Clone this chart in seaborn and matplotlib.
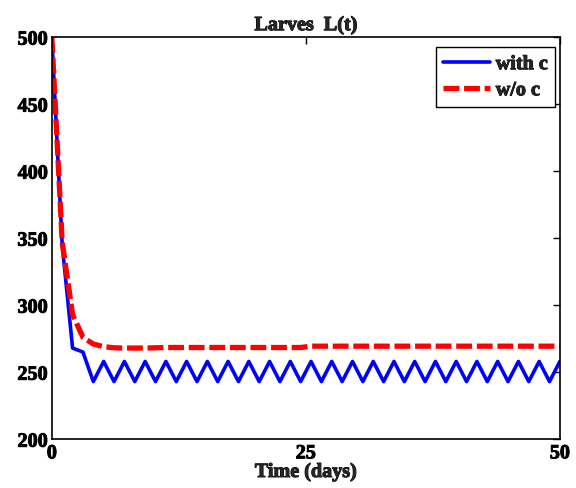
import numpy as np
import matplotlib
matplotlib.use("Agg")
import matplotlib.pyplot as plt
import matplotlib.patheffects as pe
import seaborn as sns
import pandas as pd

# Data
n_points = 50
time_days = np.linspace(0, 50, n_points)
with_c = [500, 345, 268, 265,
          243, 258, 243, 258, 243, 258, 243, 258, 243, 258,
          243, 258, 243, 258, 243, 258, 243, 258, 243, 258,
          243, 258, 243, 258, 243, 258, 243, 258, 243, 258,
          243, 258, 243, 258, 243, 258, 243, 258, 243, 258,
          243, 258, 243, 258, 243, 258]
wo_c = [500, 347, 293, 276, 271, 269, 268.2, 268, 268, 268,
        268.2, 268.4, 268.4, 268.4, 268.4, 268.4, 268.4, 268.4, 268.4, 268.4,
        268.4, 268.4, 268.4, 268.4, 268.4, 269.4, 269.4, 269.4, 269.4, 269.4,
        269.4, 269.4, 269.4, 269.4, 269.4, 269.4, 269.4, 269.4, 269.4, 269.4,
        269.4, 269.4, 269.4, 269.4, 269.4, 269.4, 269.4, 269.4, 269.4, 269.4]
x_ticks = [0, 25, 50]
y_ticks = [200, 250, 300, 350, 400, 450, 500]
title = "Larves  L(t)"
xlabel = "Time (days)"
labels = ["with c", "w/o c"]

sns.set_style("white")
plt.rcParams['font.family'] = ['Liberation Serif', 'DejaVu Serif']
plt.rcParams['font.weight'] = 'bold'

fig = plt.figure(figsize=(5.76, 4.88), dpi=100)
ax = fig.add_axes([0.090, 0.100, 0.882, 0.824])

df = pd.DataFrame({"t": time_days, "with": with_c, "wo": wo_c})
sns.lineplot(data=df, x="t", y="with", ax=ax, color="#0000ff", lw=2.6, label=labels[0])
sns.lineplot(data=df, x="t", y="wo", ax=ax, color="#ff0000", lw=3.8,
             linestyle=(0, (3.0, 0.9)), label=labels[1])

ax.set_xlim(0, 50)
ax.set_ylim(200, 500)
ax.set_xticks(x_ticks)
ax.set_yticks(y_ticks)
ax.tick_params(direction='in', length=5, width=1, top=True, right=True,
               labelsize=14.5, pad=3, colors='black')
heavy = [pe.withStroke(linewidth=0.7, foreground='black')]
for lab in ax.get_xticklabels() + ax.get_yticklabels():
    lab.set_fontweight('bold')
    lab.set_path_effects(heavy)
for s in ax.spines.values():
    s.set_visible(True)
    s.set_color('black')
    s.set_linewidth(1.2)

t = ax.set_title(title, fontsize=14.5, fontweight='bold', pad=5)
t.set_path_effects(heavy)
xl = ax.set_xlabel(xlabel, fontsize=14.5, fontweight='bold', labelpad=-1)
xl.set_path_effects(heavy)
ax.set_ylabel("")

leg = ax.legend(loc='upper right', frameon=True, fancybox=False,
                edgecolor='black', framealpha=1, handlelength=2.3,
                handletextpad=0.3,
                bbox_to_anchor=(0.99, 0.975), borderaxespad=0.0,
                borderpad=0.35, labelspacing=0.3,
                prop={'weight': 'bold', 'size': 14.5})
leg.get_frame().set_linewidth(1.0)
for txt in leg.get_texts():
    txt.set_path_effects(heavy)

fig.savefig("out.png", dpi=100)
